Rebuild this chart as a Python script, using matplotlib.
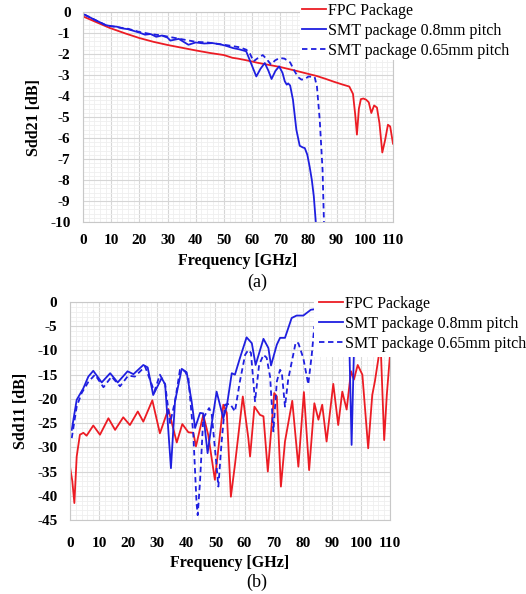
import numpy as np
import matplotlib
matplotlib.use('Agg')
import matplotlib.pyplot as plt
from matplotlib.ticker import MultipleLocator

plt.rcParams['font.family'] = ['Liberation Serif', 'DejaVu Serif']
plt.rcParams['axes.unicode_minus'] = False

# (a) Sdd21 data
fpc21_f = [0, 5, 9.5, 15, 20, 25, 30, 35, 40, 45, 50, 53, 55, 58, 62, 66, 70, 75, 80, 83, 86, 89, 92, 94.5,
           95.8, 96.6, 97.2, 97.9, 98.6, 99.5, 100.5, 101.4, 102.3, 103.3, 104.3, 105.2, 106.2, 107.2, 108.2, 109, 110]
fpc21 = [-0.21, -0.5, -0.76, -1.02, -1.24, -1.42, -1.57, -1.7, -1.83, -1.95, -2.05, -2.18, -2.22, -2.3, -2.42, -2.52,
         -2.62, -2.78, -2.95, -3.05, -3.18, -3.32, -3.45, -3.55, -3.9, -4.9, -5.84, -4.6, -4.15, -4.12, -4.18, -4.3,
         -4.81, -4.45, -4.55, -5.3, -6.69, -6.1, -5.37, -5.45, -6.27]

smt08_21_f = [0.6, 4, 8, 10, 12, 14, 16, 18, 20, 22, 24, 26, 28, 30, 31, 34, 37.4, 40, 43, 46, 49, 51, 53.3, 55.5,
              57.9, 59.5, 61.5, 63, 64.5, 65.8, 66.9, 68.3, 69.6, 70.8, 71.6, 72.3, 72.8, 73.5, 74.5, 75.7, 76.9,
              78, 78.7, 79.6, 80.4, 81.2, 81.9, 82.6]
smt08_21 = [-0.13, -0.36, -0.62, -0.68, -0.7, -0.78, -0.82, -0.9, -0.98, -1.08, -1.05, -1.18, -1.12, -1.22, -1.36,
            -1.28, -1.56, -1.45, -1.5, -1.48, -1.55, -1.62, -1.72, -1.78, -1.87, -2.4, -3.07, -2.7, -2.43, -2.8,
            -3.19, -2.8, -2.59, -2.9, -3.3, -3.46, -3.4, -3.5, -4.18, -5.6, -6.37, -6.45, -6.48, -6.8, -7.35, -8.0,
            -8.78, -10.0]

smt065_21_f = [0.6, 4, 8, 12, 16, 20, 24, 28, 32, 36, 40, 44, 48, 52, 55.6, 58, 59.3, 60.5, 62, 63.8, 65.2, 66.7,
               68.2, 69.8, 71.5, 73.5, 75, 76.3, 77.5, 78.7, 80, 82.2, 83, 84, 85, 85.5]
smt065_21 = [-0.13, -0.36, -0.62, -0.72, -0.8, -0.95, -1.05, -1.12, -1.22, -1.32, -1.42, -1.45, -1.52, -1.6, -1.68,
             -1.8, -2.0, -2.35, -2.2, -2.05, -2.25, -2.5, -2.3, -2.19, -2.22, -2.4, -2.8, -3.1, -3.22, -3.2, -3.07,
             -3.1, -3.54, -5.13, -7.51, -10.0]

# (b) Sdd11 data
fpc11_f = [0, 0.8, 1.5, 2.3, 3.4, 4.6, 5.7, 8, 10.3, 13.2, 15.5, 18.3, 20.6, 23.3, 25.2, 28.3, 30.9, 33.8, 36.7,
           38.6, 40.7, 42.4, 43.3, 45.8, 47.5, 49.8, 52.7, 53.9, 55.3, 56.7, 59.4, 61.3, 61.9, 63.4, 65.3, 66.5, 68,
           70.2, 71.1, 72.5, 73.9, 76.4, 78.5, 80.4, 82.2, 84, 85.4, 86.7, 88.2, 90.5, 92.2, 93.6, 95.1, 96.6, 97.6,
           98.9, 100.5, 102.5, 103.9, 104.8, 106.2, 106.9, 108, 108.9, 110]
fpc11 = [-34, -37, -41.5, -31.9, -27.4, -27, -27.6, -25.5, -27.4, -24, -26.4, -23.8, -25.4, -22.6, -24.7, -20.3,
         -27.1, -22.1, -29, -25.2, -26.9, -27, -29.8, -23.3, -27.4, -36.7, -21.2, -22.9, -40.2, -33.6, -19.5, -28.1,
         -31.9, -21.6, -23.3, -23.6, -35, -18.8, -19.5, -38.1, -28.8, -20.4, -34, -18.6, -34.7, -20.9, -24.3, -21.2,
         -28.8, -16.9, -25.4, -18.5, -22.2, -14.3, -16, -13, -15, -30.2, -19.2, -16.4, -10.9, -10.7, -28.5, -19.2,
         -10.9]

smt08_11_f = [0.6, 2.3, 4.6, 6.3, 8, 10.9, 13.8, 16.4, 19.8, 21.8, 25.2, 26.7, 28.6, 31.5, 32.7, 34.7, 36.1, 38.4,
              40.1, 41.8, 43, 44.7, 45.8, 47.3, 48.5, 50.4, 52.7, 53.9, 55.6, 56.7, 58.4, 60.7, 62.5, 63.8, 66.5,
              68.2, 69.1, 71.1, 72.2, 73.9, 76.2, 77.9, 80.2, 82.8, 90, 95.8, 96.8, 97.9]
smt08_11 = [-26.4, -20.2, -17.8, -15.4, -14.2, -16.6, -14.7, -16.6, -14.3, -14.9, -13, -13.5, -19.2, -15.7, -17,
            -34.3, -20.5, -13.8, -14.5, -20.5, -26, -22.9, -23, -31.2, -26, -18.5, -24, -21.5, -14.7, -15, -11.6,
            -7.3, -8.5, -13, -7.6, -9.5, -13.1, -8.8, -7.4, -7.4, -3.3, -2.8, -2.8, -1.6, -1.0, -3, -29.5, -3]

smt065_11_f = [0.6, 2.3, 4, 6.3, 8.6, 11.5, 14.3, 17.2, 20, 22.3, 25.8, 29, 30.9, 32.7, 34.4, 36.1, 37.8, 39.5,
               40.7, 42.4, 43.5, 43.9, 44.7, 45.8, 47.8, 48.7, 50.4, 51, 52.1, 53.3, 55, 56.7, 58.4, 60.2, 61.3,
               62.2, 63.6, 65, 66.5, 67.6, 68.8, 69.9, 71.1, 72.2, 72.8, 73.9, 75, 77.6, 78.5, 80.2, 81.9, 83.1, 84]
smt065_11 = [-28.1, -21.6, -18.8, -16.5, -15, -17.6, -15.4, -17.4, -15.2, -15.4, -13.3, -18.5, -15, -17, -25, -20.5,
             -14, -14.3, -15.7, -27.4, -41.5, -44, -37, -24, -21.9, -23, -34, -38.1, -29, -21.2, -21, -22.6, -16.4,
             -10.9, -9.9, -10.5, -20.5, -13, -10.9, -11.5, -15.5, -26.7, -16.4, -14, -14.5, -21.6, -16, -8.3, -8.5,
             -11.6, -17, -10.9, -5]

labels = ['FPC Package', 'SMT package 0.8mm pitch', 'SMT package 0.65mm pitch']
red = '#ec1c24'
blue = '#1f1fe0'

W, H = 526, 594
fig = plt.figure(figsize=(W / 100, H / 100), dpi=100)


def px_axes(x0, y0, x1, y1):
    return fig.add_axes([x0 / W, 1 - y1 / H, (x1 - x0) / W, (y1 - y0) / H])


def style(ax, ymin, ystep, yminor, xpad):
    ax.set_xlim(0, 110)
    ax.set_ylim(ymin, 0)
    ax.xaxis.set_major_locator(MultipleLocator(10))
    ax.xaxis.set_minor_locator(MultipleLocator(2))
    ax.yaxis.set_major_locator(MultipleLocator(ystep))
    ax.yaxis.set_minor_locator(MultipleLocator(yminor))
    ax.grid(which='major', color='#d6d6d6', lw=0.8)
    ax.grid(which='minor', color='#efefef', lw=0.6)
    ax.set_axisbelow(True)
    for s in ax.spines.values():
        s.set_color('#c8c8c8')
    ax.tick_params(which='both', length=0, labelsize=11, pad=9)
    ax.tick_params(axis='x', pad=xpad)
    for t in ax.get_xticklabels() + ax.get_yticklabels():
        t.set_fontweight('bold')


def add_legend(ax, h, x, y, pad):
    ax.legend(h, labels, loc='upper left', bbox_to_anchor=(x / W, 1 - y / H), bbox_transform=fig.transFigure,
              fontsize=11.5, frameon=True, facecolor='white', edgecolor='none', framealpha=1, fancybox=False,
              borderpad=pad, handlelength=1.5, handletextpad=0.15, labelspacing=0.25, borderaxespad=0)


# (a)
ax1 = px_axes(83, 12, 393, 222)
l1, = ax1.plot(fpc21_f, fpc21, color=red, lw=1.3)
l2, = ax1.plot(smt08_21_f, smt08_21, color=blue, lw=1.3)
l3, = ax1.plot(smt065_21_f, smt065_21, color=blue, lw=1.3, ls=(0, (3, 2)))
style(ax1, -10, 1, 0.2, 9)
ax1.set_xlabel('Frequency [GHz]', fontsize=11.5, fontweight='bold', labelpad=4)
ax1.set_ylabel('Sdd21 [dB]', fontsize=11.5, fontweight='bold', labelpad=6)
add_legend(ax1, [l1, l2, l3], 300, 1, 0.1)
fig.text(257 / W, 1 - 282 / H, '(a)', ha='center', va='center', fontsize=13)

# (b)
ax2 = px_axes(70, 302, 390, 520)
m1, = ax2.plot(fpc11_f, fpc11, color=red, lw=1.3)
m2, = ax2.plot(smt08_11_f, smt08_11, color=blue, lw=1.3)
m3, = ax2.plot(smt065_11_f, smt065_11, color=blue, lw=1.3, ls=(0, (3, 2)))
style(ax2, -45, 5, 1, 12)
ax2.set_xlabel('Frequency [GHz]', fontsize=11.5, fontweight='bold', labelpad=4)
ax2.set_ylabel('Sdd11 [dB]', fontsize=11.5, fontweight='bold', labelpad=6)
add_legend(ax2, [m1, m2, m3], 314, 291, 0.3)
fig.text(257 / W, 1 - 582 / H, '(b)', ha='center', va='center', fontsize=13)

fig.savefig('out.png', dpi=100)
